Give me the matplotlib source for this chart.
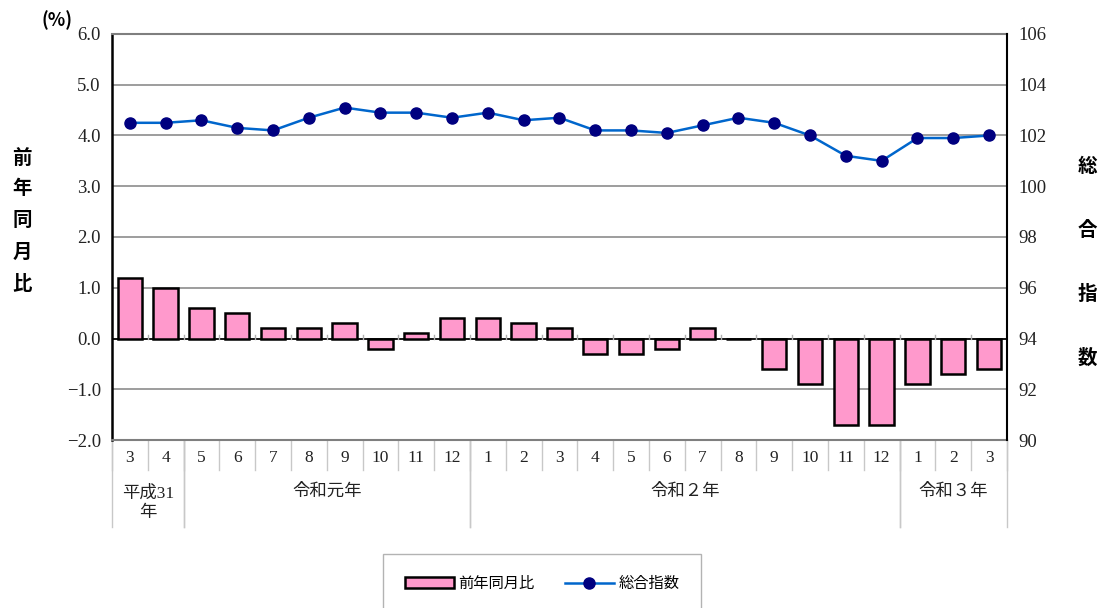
import numpy as np
import matplotlib
matplotlib.use('Agg')
import matplotlib.pyplot as plt
from matplotlib.transforms import blended_transform_factory

plt.rcParams['font.family'] = ['Liberation Serif', 'Noto Sans CJK JP', 'DejaVu Sans']

months = ['3', '4', '5', '6', '7', '8', '9', '10', '11', '12',
          '1', '2', '3', '4', '5', '6', '7', '8', '9', '10', '11', '12',
          '1', '2', '3']
years = [('平成31\n年', 0, 2), ('令和元年', 2, 10), ('令和２年', 10, 22), ('令和３年', 22, 25)]
yoy = [1.2, 1.0, 0.6, 0.5, 0.2, 0.2, 0.3, -0.2, 0.1, 0.4,
       0.4, 0.3, 0.2, -0.3, -0.3, -0.2, 0.2, 0.0, -0.6, -0.9, -1.7, -1.7,
       -0.9, -0.7, -0.6]
index = [102.5, 102.5, 102.6, 102.3, 102.2, 102.7, 103.1, 102.9, 102.9, 102.7,
         102.9, 102.6, 102.7, 102.2, 102.2, 102.1, 102.4, 102.7, 102.5, 102.0,
         101.2, 101.0, 101.9, 101.9, 102.0]

x = np.arange(len(months))
jp = ['Noto Sans CJK JP', 'DejaVu Sans']

fig = plt.figure(figsize=(11.04, 6.08), dpi=100)
ax = fig.add_axes([0.1014, 0.2763, 0.8107, 0.6678])
ax2 = ax.twinx()

ax.set_xlim(-0.5, len(months) - 0.5)
ax.set_ylim(-2.0, 6.0)
ax.set_yticks(np.arange(-2, 6.1, 1))
ax.set_yticklabels([f'{v:.1f}'.replace('-', '−') for v in np.arange(-2, 6.1, 1)])
ax.yaxis.grid(True, color='#8c8c8c', lw=1.2)
ax.set_axisbelow(True)
ax.set_xticks([])

bars = ax.bar(x, yoy, width=0.68, color='#ff99cc', edgecolor='black', lw=1.8,
              label='前年同月比', zorder=3)
ax.axhline(0, color='black', lw=1.2, zorder=2)
# small tick marks on the zero line at category boundaries
for b in np.arange(0.5, len(months) - 1, 1):
    ax.plot([b, b], [0, 0.07], color='#b0b0b0', lw=1, zorder=2)

ax2.set_ylim(90, 106)
ax2.set_yticks(np.arange(90, 107, 2))
line, = ax2.plot(x, index, color='#0066cc', lw=1.8, marker='o', ms=8,
                 mfc='#000080', mec='#000080', label='総合指数', zorder=4)

for a in (ax, ax2):
    a.tick_params(axis='y', length=0, labelsize=13.5, pad=8, colors='#222222')
    for s in a.spines.values():
        s.set_visible(False)
ax.spines['left'].set_visible(True)
ax.spines['left'].set_linewidth(1.8)
ax.spines['bottom'].set_visible(True)
ax.spines['bottom'].set_color('#7f7f7f')
ax.spines['bottom'].set_linewidth(1.5)
ax.spines['top'].set_visible(True)
ax.spines['top'].set_color('#7f7f7f')
ax.spines['top'].set_linewidth(1.5)
ax2.spines['right'].set_visible(True)
ax2.spines['right'].set_linewidth(1.5)

# category labels below axis
tr = blended_transform_factory(ax.transData, ax.transAxes)
for i, m in enumerate(months):
    ax.text(i, -0.045, m, transform=tr, ha='center', va='center', fontsize=12.5,
            color='#222222')
for b in np.arange(-0.5, len(months), 1):
    ax.plot([b, b], [0, -0.074], transform=tr, color='#c8c8c8', lw=1, clip_on=False)
for name, s, e in years:
    ax.plot([s - 0.5, s - 0.5], [0, -0.214], transform=tr, color='#c8c8c8', lw=1, clip_on=False)
    ax.plot([e - 0.5, e - 0.5], [0, -0.214], transform=tr, color='#c8c8c8', lw=1, clip_on=False)
    yy = -0.155 if '\n' in name else -0.128
    ax.text((s + e - 1) / 2, yy, name, transform=tr, ha='center', va='center',
            fontsize=12.5, family=['Liberation Serif'] + jp, color='#222222', linespacing=1.3)

# axis titles
H = 608
fig.text(0.052, 1 - 20 / H, '(%)', ha='center', va='center', fontsize=13, fontweight='bold', family=jp)
for ch, py in zip('前年同月比', [158, 189, 220, 252, 284]):
    fig.text(0.020, 1 - py / H, ch, ha='center', va='center', fontsize=14,
             fontweight='bold', family=jp)
for ch, py in zip('総合指数', [166, 230, 294, 358]):
    fig.text(0.985, 1 - py / H, ch, ha='center', va='center', fontsize=14,
             fontweight='bold', family=jp)

leg = fig.legend(handles=[bars, line], loc='center', bbox_to_anchor=(0.491, 0.04),
                 ncol=2, frameon=True, fancybox=False, edgecolor='#a0a0a0',
                 prop={'family': jp, 'size': 11}, handlelength=3.2,
                 borderpad=1.4, columnspacing=2.0, handletextpad=0.3)
leg.get_frame().set_linewidth(1)

fig.savefig('out.png', dpi=100)
